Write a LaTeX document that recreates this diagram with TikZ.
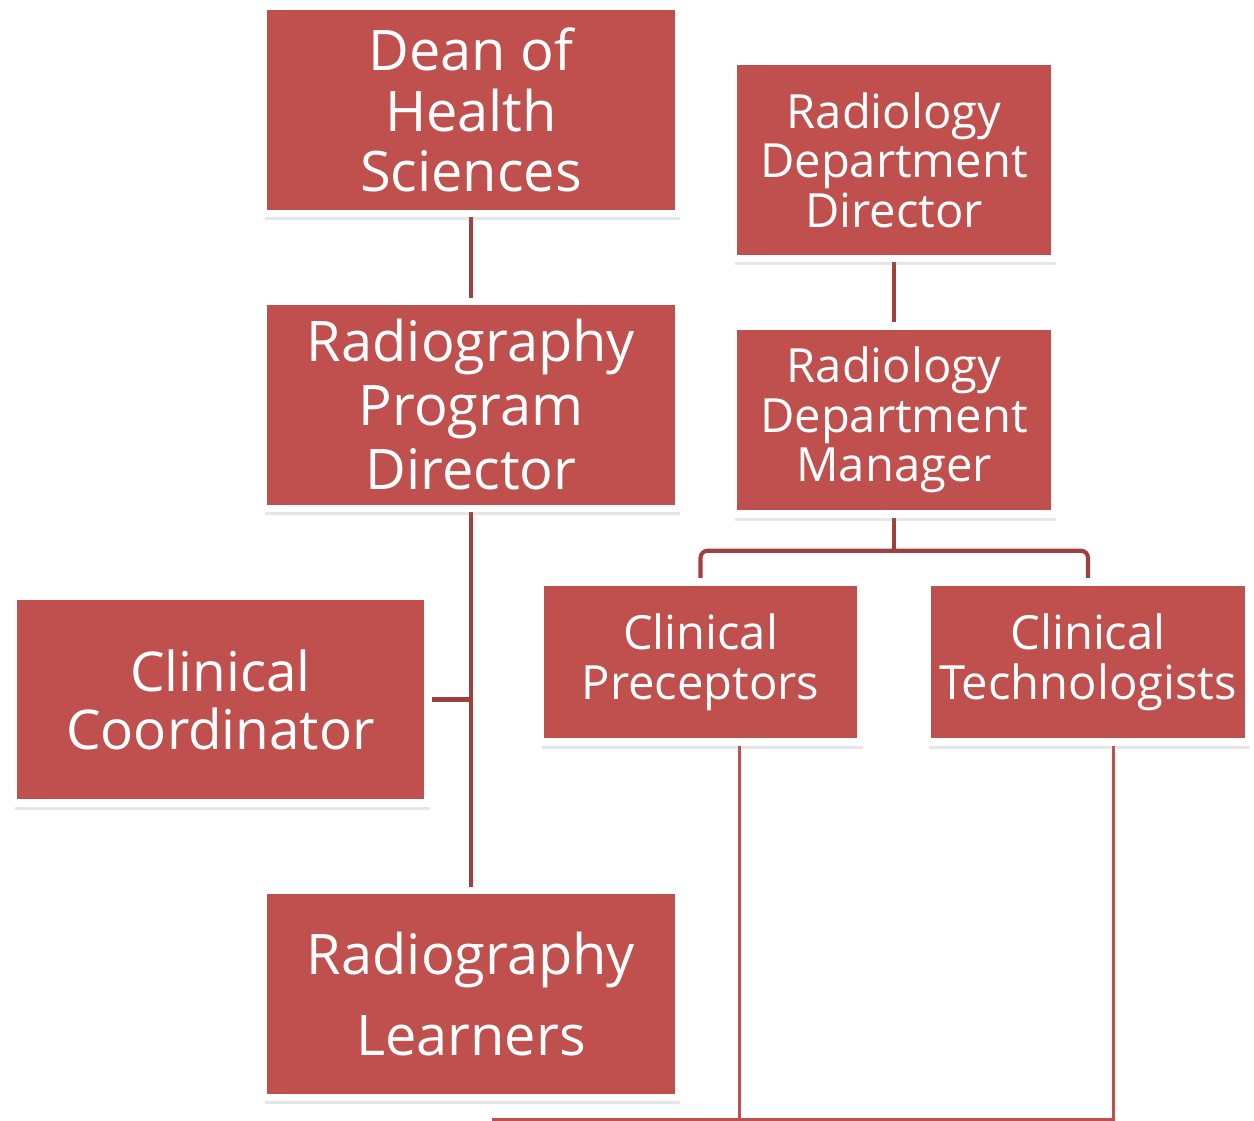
\documentclass[tikz,border=0pt]{standalone}
\usepackage{fontspec}
\newfontfamily\boxfont{Open Sans}
\usetikzlibrary{calc, shadows, backgrounds}
\definecolor{boxred}{RGB}{192,80,77}
\definecolor{linkred}{RGB}{160,64,62}

\begin{document}
\begin{tikzpicture}[
    x=0.01cm, y=-0.01cm,
    unit/.style={rectangle, fill=boxred, draw=white, line width=2.1pt, inner sep=0pt, text=white, align=center,
      drop shadow={shadow xshift=0.5pt, shadow yshift=-1.9pt, opacity=0.2}},
    big/.style={unit, minimum width=4.145cm, minimum height=2.07cm, font=\boxfont\fontsize{15.9pt}{17.1pt}\selectfont},
    small/.style={unit, minimum width=3.21cm, font=\boxfont\fontsize{13.4pt}{14.1pt}\selectfont},
    link/.style={linkred, line width=1.15pt},
    feed/.style={boxred, line width=0.85pt}
  ]
  \useasboundingbox (0,0) rectangle (1254,1121);

  \node[big] (dean) at (471,110) {Dean of\\Health\\Sciences};
  \node[big, font=\boxfont\fontsize{15.9pt}{18.2pt}\selectfont] (prog) at (471,405) {Radiography\\Program\\Director};
  \node[big, font=\boxfont\fontsize{15.6pt}{16.5pt}\selectfont] (coord) at (220.5,699.5) {Clinical\\Coordinator};
  \node[big] (learn) at (471,994) {Radiography\\[5.7pt]Learners};

  \node[small, minimum height=1.97cm] (rdir) at (894,160) {Radiology\\Department\\Director};
  \node[small, minimum height=1.88cm] (rman) at (894,420) {Radiology\\Department\\Manager};
  \node[small, minimum height=1.6cm] (prec) at (700.5,662) {Clinical\\Preceptors};
  \node[small, minimum height=1.6cm] (tech) at (1088,662) {Clinical\\Technologists};

  \coordinate (split) at ($(rman.south)+(0,33)$);
  \coordinate (feedend) at (492,1119);

  \begin{scope}[on background layer]
    \draw[link] (dean) -- (prog);
    \draw[link] (prog) -- (learn);
    \draw[link] (coord) -- (coord -| prog);
    \draw[link] (rdir) -- (rman);
    \draw[link] (rman) -- (split);
    \draw[link, rounded corners=2pt] (prec.north) |- (split) -| (tech.north);
    \draw[feed] ($(prec.south)+(38.5,0)$) |- (feedend);
    \draw[feed] ($(tech.south)+(25,0)$) |- (feedend);
  \end{scope}

\end{tikzpicture}
\end{document}
